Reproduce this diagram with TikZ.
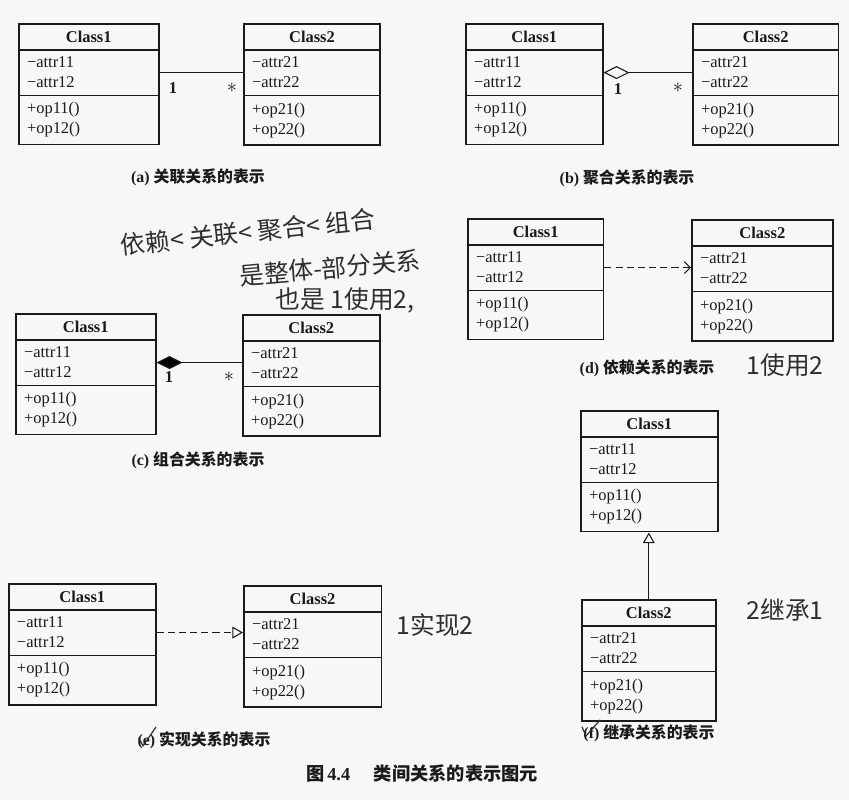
\documentclass[tikz,border=0pt]{standalone}
\usepackage{fontspec}
\setmainfont{Liberation Serif}
\newfontfamily\cjk{Noto Sans CJK SC}
\usetikzlibrary{arrows.meta, positioning, shapes.multipart, calc}
\definecolor{cink}{HTML}{1A1A1A}
\definecolor{cpen}{HTML}{2E2E2E}
\definecolor{cpaper}{HTML}{F7F7F5}
\tikzset{
  every picture/.style={line width=0.9pt},
  umlclass/.style={rectangle split, rectangle split parts=3, draw=cink, line width=1.3pt,
    minimum width=#1, align=left, rectangle split part align={center,left,left},
    inner xsep=7pt, inner ysep=5.5pt, anchor=north west, text=cink,
    font=\fontsize{14}{17}\selectfont},
  umlclass/.default=119pt,
  link/.style={draw=cink, line width=0.9pt},
  depend/.style={link, dash pattern=on 6pt off 3.5pt},
  mult/.style={font=\fontsize{14}{15}\selectfont\bfseries, inner sep=1pt, text=cink},
  caption/.style={font=\fontsize{13.5}{16}\selectfont\bfseries, text=cink},
  pen/.style={font=\cjk\fontsize{21}{24}\selectfont, text=cpen, inner sep=1pt},
  tick/.style={draw=cpen, line width=1pt, line cap=round, line join=round},
}
\newcommand{\classbody}[1]{\textbf{Class#1}\nodepart{two}−attr#11\\−attr#12\nodepart{three}+op#11()\\+op#12()}
\newcommand{\many}{\fontsize{18}{18}\selectfont$\ast$}

\begin{document}
\begin{tikzpicture}[x=0.85pt, y=-0.85pt]
  \fill[cpaper] (0,0) rectangle (849,800);
  \useasboundingbox (0,0) rectangle (849,800);
  % (a) association
  \node[umlclass] (a1) at (18,23) {\classbody{1}};
  \node[umlclass=116pt] (a2) at (243,23) {\classbody{2}};
  \coordinate (a1m) at ($(a1.text split east)!.5!(a1.two split east)$);
  \draw[link] (a1m) -- (a1m -| a2.west);
  \node[mult] (a1n) at (173,88) {1};
  \node[mult] (a2n) at (232,88) {\many};
  % (b) aggregation
  \node[umlclass=116.5pt] (b1) at (465,23) {\classbody{1}};
  \node[umlclass=124pt] (b2) at (692,23) {\classbody{2}};
  \coordinate (b1m) at ($(b1.text split east)!.5!(b1.two split east)$);
  \draw[link, {Diamond[open, length=22pt, width=11pt]}-] (b1m) -- (b1m -| b2.west);
  \node[mult] (b1n) at (618,89) {1};
  \node[mult] (b2n) at (678,88) {\many};
  % (c) composition
  \node[umlclass] (c1) at (15,313) {\classbody{1}};
  \node[umlclass=116.5pt] (c2) at (242,314) {\classbody{2}};
  \coordinate (c1m) at ($(c1.text split east)!.5!(c1.two split east)$);
  \draw[link, {Diamond[length=22pt, width=11pt]}-] (c1m) -- (c1m -| c2.west);
  \node[mult] (c1n) at (169,377) {1};
  \node[mult] (c2n) at (229,377) {\many};
  % (d) dependency
  \node[umlclass=115.5pt] (d1) at (467,218) {\classbody{1}};
  \node[umlclass=120pt] (d2) at (691,219) {\classbody{2}};
  \coordinate (d1m) at ($(d1.text split east)!.5!(d1.two split east)$);
  \draw[depend, -{Straight Barb[length=5pt, width=10pt]}] (d1m) -- (d1m -| d2.west);
  % (e) realization
  \node[umlclass=125pt] (e1) at (8,583) {\classbody{1}};
  \node[umlclass=117pt] (e2) at (243,585) {\classbody{2}};
  \coordinate (e1m) at ($(e1.text split east)!.5!(e1.two split east)$);
  \draw[depend, -{Triangle[open, length=9pt, width=10pt]}] (e1m) -- (e1m -| e2.west);
  % (f) generalization
  \node[umlclass=116.5pt] (f1) at (580,410) {\classbody{1}};
  \node[umlclass=114pt] (f2) at (581,599) {\classbody{2}};
  \draw[link, -{Triangle[open, length=9pt, width=10pt]}] (f2.north) -- (f2.north |- f1.south);
  % captions
  \foreach \p/\x/\y/\r in {a/198/177/关联, b/627/178/聚合, c/198/460/组合,
      d/647/368/依赖, e/204/740/实现, f/649/733/继承}
    \node[caption] (cap\p) at (\x,\y) {(\p) {\cjk\r{}关系的表示}};
  \node[caption, font=\fontsize{15.5}{18}\selectfont\bfseries] (fig) at (422,773)
    {{\cjk 图}\,4.4\hspace{1.3em}{\cjk 类间关系的表示图元}};
  % handwritten notes
  \node[pen, rotate=6] (hw1) at (248,232) {依赖<\ 关联<\ 聚合<\ 组合};
  \node[pen, rotate=5] (hw2) at (330,268) {是整体-部分关系};
  \node[pen] (hw3) at (345,300) {也是\ 1使用2,};
  \node[pen] (hw4) at (785,365) {1使用2};
  \node[pen] (hw5) at (435,625) {1实现2};
  \node[pen] (hw6) at (785,610) {2继承1};
  \draw[tick] (139,738) -- (143,746) -- (156,727);
  \draw[tick] (582,727) -- (586,736) -- (600,720);
\end{tikzpicture}
\end{document}
